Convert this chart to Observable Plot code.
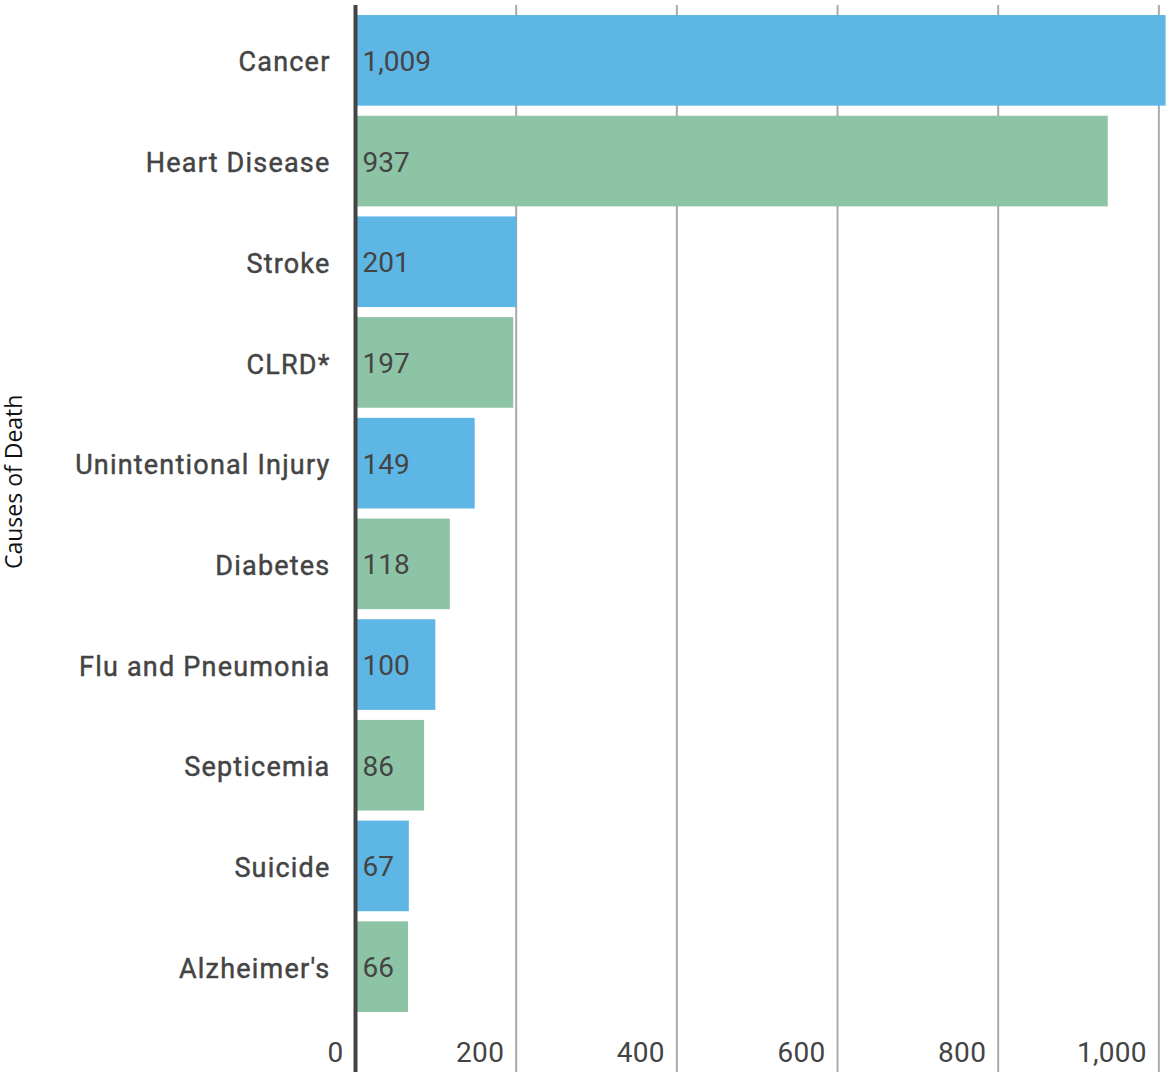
<!DOCTYPE html>
<html>
<head>
<meta charset="utf-8">
<script src="https://cdn.jsdelivr.net/npm/d3@7"></script>
<script src="https://cdn.jsdelivr.net/npm/@observablehq/plot@0.6"></script>
<style>
  html, body { margin: 0; padding: 0; background: #fff; }
  .ylab text { letter-spacing: 1.2px; stroke: #444; stroke-width: 0.45px; }
  .xlab text { letter-spacing: 0.3px; }
</style>
</head>
<body>
<div id="wrap"></div>
<script>
const causes = ["Cancer", "Heart Disease", "Stroke", "CLRD*", "Unintentional Injury", "Diabetes", "Flu and Pneumonia", "Septicemia", "Suicide", "Alzheimer's"];
const deaths = [1009, 937, 201, 197, 149, 118, 100, 86, 67, 66];
const xTicks = [0, 200, 400, 600, 800, 1000];
const yTitle = "Causes of Death";

const data = causes.map((c, i) => ({cause: c, value: deaths[i], idx: i}));
const blue = "#5eb6e4", green = "#8ec4a6";
const fmt = d3.format(",");

const chart = Plot.plot({
  width: 1166,
  height: 1072,
  marginLeft: 355,
  marginRight: 0,
  marginTop: 10,
  marginBottom: 55,
  style: {fontFamily: "Roboto, sans-serif", background: "#fff"},
  x: {domain: [0, 1009.5], axis: null},
  y: {domain: causes, paddingInner: 0.1, paddingOuter: 0.05, round: false, axis: null},
  marks: [
    Plot.ruleX(xTicks.slice(1), {stroke: "#aaa", strokeWidth: 2, insetTop: -5, insetBottom: -56}),
    Plot.barX(data, {x: "value", y: "cause", fill: d => d.idx % 2 ? green : blue}),
    Plot.text(data, {x: 0, y: "cause", text: d => fmt(d.value), textAnchor: "start", dx: 7, dy: 1, fontSize: 28, fill: "#444"}),
    Plot.axisY({domain: causes, tickSize: 0, tickPadding: 25, dy: 2, fontSize: 27, color: "#444", label: null, className: "ylab"}),
    Plot.axisX({ticks: xTicks, tickFormat: fmt, tickSize: 0, tickPadding: 25, textAnchor: "end", dx: -12, fontSize: 28, color: "#444", label: null, className: "xlab"}),
    Plot.ruleX([0], {stroke: "#444", strokeWidth: 4, insetTop: -5, insetBottom: -56}),
    Plot.text([yTitle], {frameAnchor: "left", text: d => d, rotate: -90, dx: -341, dy: 55, fontFamily: "Open Sans, sans-serif", fontSize: 23, fill: "#111"})
  ]
});
document.getElementById("wrap").append(chart);
</script>
</body>
</html>
